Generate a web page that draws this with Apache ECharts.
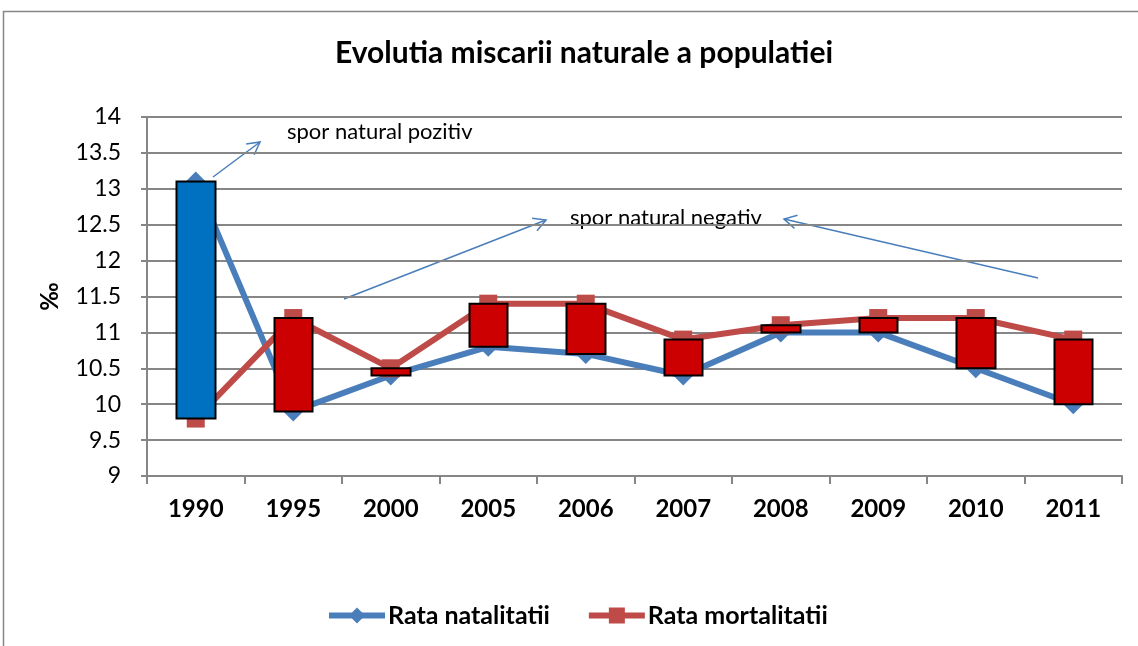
<!DOCTYPE html>
<html>
<head>
<meta charset="utf-8">
<script src="https://cdn.jsdelivr.net/npm/echarts@6/dist/echarts.min.js"></script>
<style>
html,body{margin:0;padding:0;background:#fff;}
#chart{width:1138px;height:646px;}
</style>
</head>
<body>
<div id="chart"></div>
<script>
var years = ['1990','1995','2000','2005','2006','2007','2008','2009','2010','2011'];
var natalitate = [13.1, 9.9, 10.4, 10.8, 10.7, 10.4, 11.0, 11.0, 10.5, 10.0];
var mortalitate = [9.8, 11.2, 10.5, 11.4, 11.4, 10.9, 11.1, 11.2, 11.2, 10.9];
var yTicks = [9, 9.5, 10, 10.5, 11, 11.5, 12, 12.5, 13, 13.5, 14];

var font = 'Lato, "Open Sans", sans-serif';

// up/down bars: open = mortalitate, close = natalitate
var bare = [];
for (var i = 0; i < years.length; i++) {
    var a = mortalitate[i], b = natalitate[i];
    bare.push([a, b, Math.min(a, b), Math.max(a, b)]);
}

function arrow(x1, y1, x2, y2) {
    var ang = Math.atan2(y2 - y1, x2 - x1);
    var len = 14, spread = 0.5;
    var p1 = [x2 - len * Math.cos(ang - spread), y2 - len * Math.sin(ang - spread)];
    var p2 = [x2 - len * Math.cos(ang + spread), y2 - len * Math.sin(ang + spread)];
    return {
        type: 'group',
        children: [
            {type: 'line', shape: {x1: x1, y1: y1, x2: x2, y2: y2}, style: {stroke: '#4A7EBB', lineWidth: 1.5}},
            {type: 'polyline', shape: {points: [p1, [x2, y2], p2]}, style: {stroke: '#4A7EBB', lineWidth: 1.5, fill: null}}
        ]
    };
}

var chart = echarts.init(document.getElementById('chart'));
chart.setOption({
    backgroundColor: '#fff',
    animation: false,
    title: {
        text: 'Evolutia miscarii naturale a populatiei',
        left: 330,
        top: 33,
        textStyle: {fontFamily: font, fontSize: 30, fontWeight: 'bold', color: '#000'}
    },
    legend: {
        data: ['Rata natalitatii', 'Rata mortalitatii'],
        top: 598,
        left: 321,
        itemWidth: 56,
        itemHeight: 20,
        itemGap: 36,
        lineStyle: {width: 6},
        textStyle: {fontFamily: font, fontSize: 25, fontWeight: 'bold', color: '#000', padding: [0, 0, 0, -2]}
    },
    grid: {left: 147, right: 16, top: 117, bottom: 170},
    xAxis: {
        type: 'category',
        data: years,
        boundaryGap: true,
        axisLine: {lineStyle: {color: '#868686', width: 2}},
        axisTick: {show: true, length: 8, lineStyle: {color: '#868686', width: 2}},
        axisLabel: {fontFamily: font, fontSize: 24, fontWeight: 'bold', color: '#000', margin: 21}
    },
    yAxis: {
        type: 'value',
        min: yTicks[0],
        max: yTicks[yTicks.length - 1],
        interval: 0.5,
        name: '‰',
        nameLocation: 'middle',
        nameRotate: 90,
        nameGap: 85,
        nameTextStyle: {fontFamily: font, fontSize: 24, fontWeight: 'bold', color: '#000'},
        axisLine: {show: true, lineStyle: {color: '#868686', width: 2}},
        axisTick: {show: true, length: 6, lineStyle: {color: '#868686', width: 2}},
        splitLine: {lineStyle: {color: '#868686', width: 2}},
        axisLabel: {fontFamily: font, fontSize: 23, color: '#000', margin: 26}
    },
    graphic: [
        {type: 'rect', shape: {x: 3.5, y: 11.5, width: 1300, height: 800}, style: {fill: null, stroke: '#868686', lineWidth: 1.5}, z: -10},
        {type: 'text', left: 287, top: 121, style: {text: 'spor natural pozitiv', font: '22px ' + font, fill: '#000'}},
        {type: 'text', left: 570, top: 207, style: {text: 'spor natural negativ', font: '22px ' + font, fill: '#000'}},
        arrow(213, 177, 260, 142),
        arrow(344, 299, 546, 220),
        arrow(1038, 278, 784, 219)
    ],
    series: [
        {
            name: 'Rata natalitatii',
            type: 'line',
            data: natalitate,
            symbol: 'diamond',
            symbolSize: 20,
            lineStyle: {color: '#4A7EBB', width: 6},
            itemStyle: {color: '#4A7EBB'},
            z: 2
        },
        {
            name: 'Rata mortalitatii',
            type: 'line',
            data: mortalitate,
            symbol: 'rect',
            symbolSize: 18,
            lineStyle: {color: '#BE4B48', width: 6},
            itemStyle: {color: '#BE4B48'},
            z: 2
        },
        {
            name: 'bare',
            type: 'candlestick',
            data: bare,
            barWidth: 39,
            itemStyle: {
                color: '#0070C0',
                color0: '#CC0000',
                borderColor: '#000',
                borderColor0: '#000',
                borderWidth: 2
            },
            z: 5
        }
    ]
});
</script>
</body>
</html>
